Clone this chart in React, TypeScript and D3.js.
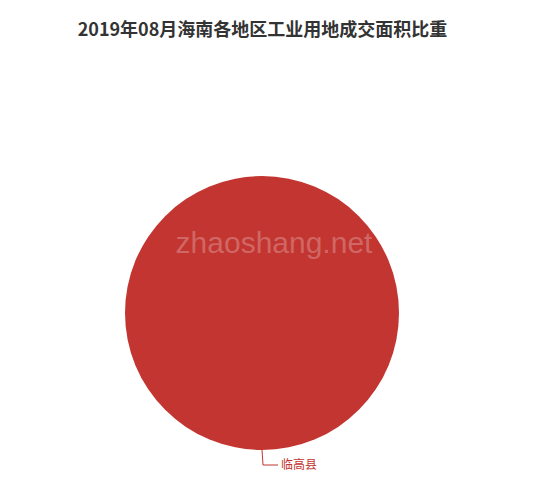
import React from 'react';
import * as d3 from 'd3';

const regions = ['临高县'];
const areaValues = [100];

const WIDTH = 550;
const HEIGHT = 490;
const cx = 262;
const cy = 313;
const radius = 137;

export default function App() {
  const data = regions.map((name, i) => ({ name, value: areaValues[i] }));
  const pie = d3
    .pie<any>()
    .value((d: any) => d.value)
    .sort(null);
  const arcs = pie(data);
  const arc: any = d3.arc().innerRadius(0).outerRadius(radius);
  const pointAt = (r: number) => d3.arc().innerRadius(r).outerRadius(r);

  return (
    <div style={{ position: 'absolute', left: 0, top: 0 }}>
      <svg width={WIDTH} height={HEIGHT} style={{ display: 'block' }}>
        <rect width={WIDTH} height={HEIGHT} fill="#fff" />
        <text
          x={262.5}
          y={36}
          textAnchor="middle"
          fontFamily="'Noto Sans CJK SC', sans-serif"
          fontWeight="bold"
          fontSize={18}
          fill="#333"
        >
          2019年08月海南各地区工业用地成交面积比重
        </text>
        <g transform={`translate(${cx},${cy})`}>
          {arcs.map((a: any, i: number) => {
            const mid = (a.startAngle + a.endAngle) / 2;
            const p0 = (pointAt(radius) as any).centroid({ startAngle: mid, endAngle: mid });
            const p1 = (pointAt(radius + 15) as any).centroid({ startAngle: mid, endAngle: mid });
            const right = Math.sin(mid) >= 0 || Math.abs(Math.sin(mid)) < 1e-6;
            const x2 = p1[0] + (right ? 15 : -15);
            return (
              <g key={i}>
                <path d={arc(a)} fill="#c23531" />
                <polyline
                  points={`${p0[0]},${p0[1]} ${p1[0] + 1},${p1[1]} ${x2 + 1},${p1[1]}`}
                  fill="none"
                  stroke="#c23531"
                  strokeWidth={1}
                />
                <text
                  x={x2 + 4}
                  y={p1[1]}
                  dy="0.35em"
                  textAnchor={right ? 'start' : 'end'}
                  fontFamily="'Noto Sans CJK SC', sans-serif"
                  fontSize={12}
                  fill="#c23531"
                >
                  {a.data.name}
                </text>
              </g>
            );
          })}
        </g>
        <text
          x={274}
          y={253}
          textAnchor="middle"
          fontFamily="'Liberation Sans', Arial, sans-serif"
          fontSize={30}
          fill="#fff"
          fillOpacity={0.25}
        >
          zhaoshang.net
        </text>
      </svg>
    </div>
  );
}
